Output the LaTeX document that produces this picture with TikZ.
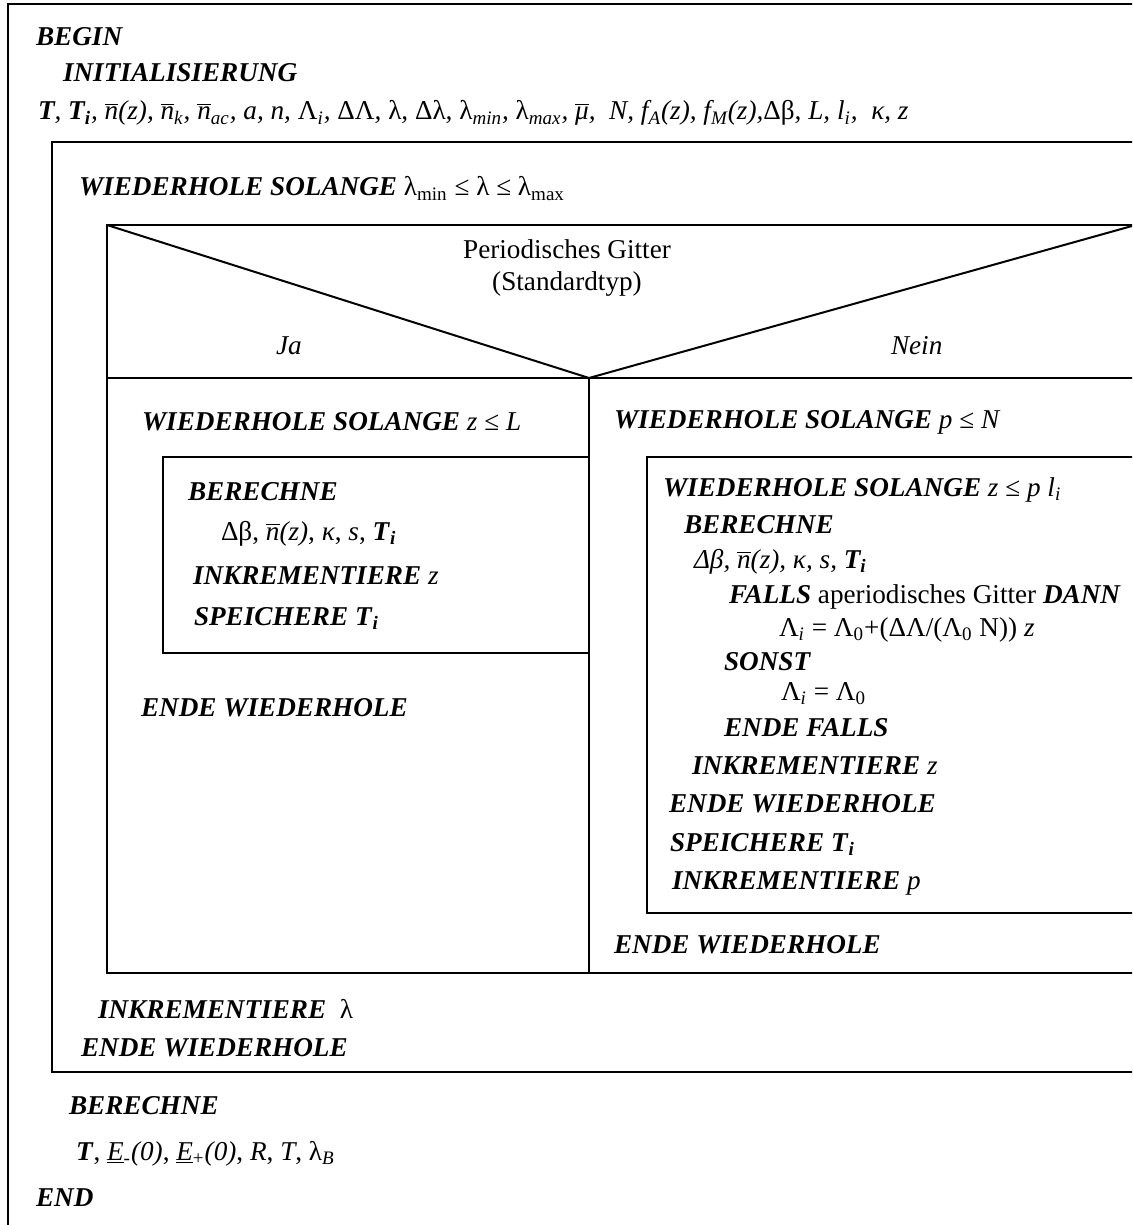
\documentclass[tikz,border=0pt]{standalone}
\usepackage{fontspec}
\setmainfont{Liberation Serif}
\newcommand{\kw}[1]{\textbf{\textit{#1}}}
\newcommand{\sub}[1]{\textsubscript{#1}}
\newcommand{\nbar}{$\overline{\mbox{\itshape n}}$}
\newcommand{\mubar}{$\overline{\mbox{μ}}$}

\begin{document}
\begin{tikzpicture}
        [x=0.5pt, y=-0.5pt, line width=1pt,
         txt/.style={anchor=base west, inner sep=0pt, font=\fontsize{13.6}{16}\selectfont},
         mid/.style={anchor=base, inner sep=0pt, font=\fontsize{13.6}{16}\selectfont}]
        
        \useasboundingbox (0,0) rectangle (1132,1225);
        \clip (0,0) rectangle (1132,1225);
        
        % frames
        \draw (8,1240) -- (8,4) -- (1140,4);
        \draw (1140,142) -- (52,142) -- (52,1072) -- (1140,1072);
        \draw (1140,225) -- (107,225) -- (107,973) -- (1140,973);
        \draw (107,225) -- (589,378) -- (1132,226);
        \draw (107,378) -- (1140,378);
        \draw (589,378) -- (589,973);
        \draw (589,457) -- (163,457) -- (163,653) -- (589,653);
        \draw (1140,457) -- (647,457) -- (647,913) -- (1140,913);
        
        \node [txt] (begin) at (35,46)  {\kw{BEGIN}};
        \node [txt] (init)  at (62,82)  {\kw{INITIALISIERUNG}};
        \node [txt] (vars)  at (37,120) {\itshape \kw{T}, \kw{T}\sub{\kw{i}}, \nbar(z), \nbar\sub{k}, \nbar\sub{ac}, a, n, \textup{Λ}\sub{i}, \textup{ΔΛ}, \textup{λ}, \textup{Δλ}, \textup{λ}\sub{min}, \textup{λ}\sub{max}, \mubar,~ N, f\sub{A}(z), f\sub{M}(z),\textup{Δβ}, L, l\sub{i},~ κ, z};
        
        \node [txt] (loop)  at (78,196) {\kw{WIEDERHOLE SOLANGE} λ\sub{min} ≤ λ ≤ λ\sub{max}};
        
        \node [mid] (cond)  at (567,258) {Periodisches Gitter};
        \node [mid] (type)  at (567,291) {(Standardtyp)};
        \node [txt] (ja)    at (275,354) {\textit{Ja}};
        \node [txt] (nein)  at (890,354) {\textit{Nein}};
        
        % Ja
        \node [txt] (jloop) at (141,430) {\kw{WIEDERHOLE SOLANGE} \textit{z} ≤ \textit{L}};
        \node [txt] (jcalc) at (187,500) {\kw{BERECHNE}};
        \node [txt] (jvars) at (220,540) {Δβ, \nbar\textit{(z)}, \textit{κ}, \textit{s}, \kw{T}\sub{\kw{i}}};
        \node [txt] (jinc)  at (192,584) {\kw{INKREMENTIERE} \textit{z}};
        \node [txt] (jsave) at (193,625) {\kw{SPEICHERE T}\sub{\kw{i}}};
        \node [txt] (jend)  at (140,716) {\kw{ENDE WIEDERHOLE}};
        
        % Nein
        \node [txt] (nloop) at (613,428) {\kw{WIEDERHOLE SOLANGE} \textit{p} ≤ \textit{N}};
        \node [txt] (zloop) at (662,496) {\kw{WIEDERHOLE SOLANGE} \textit{z} ≤ \textit{p l}\sub{\textit{i}}};
        \node [txt] (ncalc) at (683,533) {\kw{BERECHNE}};
        \node [txt] (nvars) at (693,568) {\itshape Δβ, \nbar(z), κ, s, \kw{T}\sub{\kw{i}}};
        \node [txt] (falls) at (728,603) {\kw{FALLS} aperiodisches Gitter \kw{DANN}};
        \node [txt] (aper)  at (778,636) {Λ\sub{\textit{i}} = Λ\sub{0}+(ΔΛ/(Λ\sub{0} N)) \textit{z}};
        \node [txt] (sonst) at (723,670) {\kw{SONST}};
        \node [txt] (per)   at (780,700) {Λ\sub{\textit{i}} = Λ\sub{0}};
        \node [txt] (endf)  at (723,736) {\kw{ENDE FALLS}};
        \node [txt] (zinc)  at (691,774) {\kw{INKREMENTIERE} \textit{z}};
        \node [txt] (zend)  at (668,812) {\kw{ENDE WIEDERHOLE}};
        \node [txt] (nsave) at (669,851) {\kw{SPEICHERE T}\sub{\kw{i}}};
        \node [txt] (pinc)  at (671,889) {\kw{INKREMENTIERE} \textit{p}};
        \node [txt] (nend)  at (613,953) {\kw{ENDE WIEDERHOLE}};
        
        \node [txt] (linc)  at (97,1018)  {\kw{INKREMENTIERE}~~λ};
        \node [txt] (lend)  at (80,1056)  {\kw{ENDE WIEDERHOLE}};
        \node [txt] (calc)  at (68,1114)  {\kw{BERECHNE}};
        \node [txt] (res)   at (75,1160)  {\kw{T}, \underline{\textit{E}}\sub{-}\textit{(0)}, \underline{\textit{E}}\sub{+}\textit{(0)}, \textit{R}, \textit{T}, λ\sub{\textit{B}}};
        \node [txt] (end)   at (35,1206)  {\kw{END}};
        \end{tikzpicture}
\end{document}
